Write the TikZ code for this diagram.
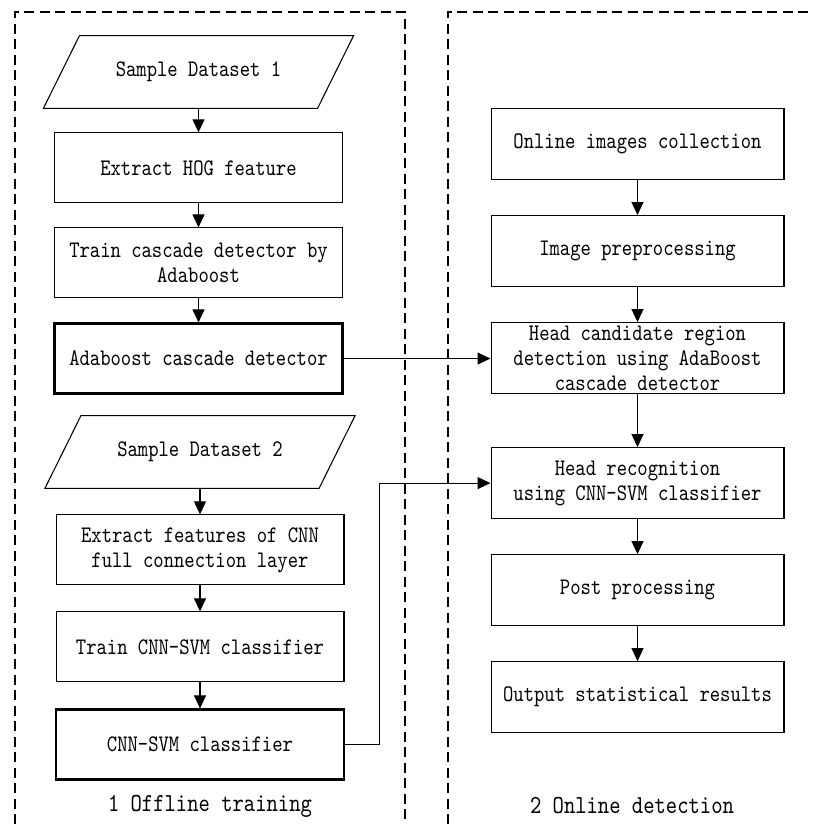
\documentclass[tikz,border=0pt]{standalone}
\usepackage{fontspec}
\usepackage{tikz}
\usetikzlibrary{arrows.meta}
\usetikzlibrary{positioning}
\usetikzlibrary{calc}
\newfontfamily\flowfont{lmmono10-regular}[Extension=.otf, FakeStretch=0.83]

\begin{document}
\begin{tikzpicture}[x=0.02cm, y=-0.02cm,
	processBox/.style={draw, line width=0.6pt, rectangle, align=center, inner sep=1pt, minimum width=5.76cm, minimum height=1.4cm, font=\flowfont\fontsize{13.5}{14.2}\selectfont},
	boldBox/.style={processBox, line width=1.3pt},
	onlineBox/.style={processBox, minimum width=5.86cm, minimum height=1.42cm},
	dataBox/.style={rectangle, inner sep=1pt, minimum width=5.47cm, minimum height=1.44cm, font=\flowfont\fontsize{13.5}{14.2}\selectfont},
	flowArrow/.style={line width=0.6pt, -{Triangle[length=0.26cm, width=0.24cm]}},
	groupLine/.style={line width=0.6pt, dash pattern=on 0.2cm off 0.11cm},
	groupLabel/.style={font=\flowfont\fontsize{14.8}{16}\selectfont}]
	\useasboundingbox (0,0) rectangle (813,824);
	% dashed frames of the two stages
	\draw[groupLine] (15,824) -- (15,12) -- (405,12) -- (405,824);
	\draw[groupLine] (448,824) -- (448,12) -- (813,12);
	% offline training
	\node[dataBox] (dsone) at (198.5,72) {Sample Dataset 1};
	\node[processBox] (hog) [below=0.48cm of dsone] {Extract HOG feature};
	\node[processBox] (traincascade) [below=0.48cm of hog] {Train cascade detector by\\Adaboost};
	\node[boldBox] (adacascade) [below=0.48cm of traincascade] {Adaboost cascade detector};
	\node[dataBox] (dstwo) at (200,452) {Sample Dataset 2};
	\node[processBox] (cnnfeat) [below=0.52cm of dstwo] {Extract features of CNN\\full connection layer};
	\node[processBox] (traincnn) [below=0.52cm of cnnfeat] {Train CNN-SVM classifier};
	\node[boldBox] (cnnsvm) [below=0.52cm of traincnn] {CNN-SVM classifier};
	\node[groupLabel] (offline) at (210,806) {1 Offline training};
	% slanted outlines of the two data sets
	\foreach \ds in {dsone,dstwo}
		\draw[line width=0.6pt] ($(\ds.north west)+(18,0)$) -- ($(\ds.north east)+(18,0)$) -- ($(\ds.south east)+(-18,0)$) -- ($(\ds.south west)+(-18,0)$) -- cycle;
	% online detection
	\node[onlineBox] (collect) at (637.5,144) {Online images collection};
	\node[onlineBox] (preproc) [below=0.7cm of collect] {Image preprocessing};
	\node[onlineBox] (headcand) [below=0.7cm of preproc] {Head candidate region\\detection using AdaBoost\\cascade detector};
	\node[onlineBox] (headrec) [below=1.06cm of headcand] {Head recognition\\using CNN-SVM classifier};
	\node[onlineBox] (postproc) [below=0.7cm of headrec] {Post processing};
	\node[onlineBox] (output) [below=0.7cm of postproc] {Output statistical results};
	\node[groupLabel] (online) at (632,806) {2 Online detection};
	% connectors
	\draw[flowArrow] (dsone) -- (hog);
	\draw[flowArrow] (hog) -- (traincascade);
	\draw[flowArrow] (traincascade) -- (adacascade);
	\draw[flowArrow] (dstwo) -- (cnnfeat);
	\draw[flowArrow] (cnnfeat) -- (traincnn);
	\draw[flowArrow] (traincnn) -- (cnnsvm);
	\draw[flowArrow] (collect) -- (preproc);
	\draw[flowArrow] (preproc) -- (headcand);
	\draw[flowArrow] (headcand) -- (headrec);
	\draw[flowArrow] (headrec) -- (postproc);
	\draw[flowArrow] (postproc) -- (output);
	\draw[flowArrow] (adacascade.east) -- (adacascade.east -| headcand.west);
	\draw[flowArrow] (cnnsvm.east) -- ++(34,0) |- (headrec.west);
\end{tikzpicture}
\end{document}
